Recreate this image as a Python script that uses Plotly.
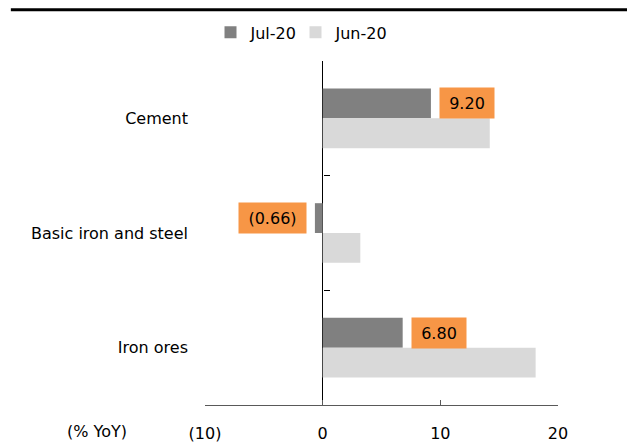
import plotly.graph_objects as go

# Output growth by industry (% YoY)
categories = ["Cement", "Basic iron and steel", "Iron ores"]
jul_20 = [9.20, -0.66, 6.80]
jun_20 = [14.2, 3.2, 18.1]
series_names = ["Jul-20", "Jun-20"]
x_tick_vals = [-10, 0, 10, 20]
x_tick_text = ["(10)", "0", "10", "20"]
label_texts = ["9.20", "(0.66)", "6.80"]

FONT = "DejaVu Sans"
BAR_GAP = 0.48

fig = go.Figure()
fig.add_trace(go.Bar(
    y=categories, x=jul_20, name=series_names[0], orientation="h",
    marker=dict(color="#808080", line=dict(width=0)), legend="legend",
))
fig.add_trace(go.Bar(
    y=categories, x=jun_20, name=series_names[1], orientation="h",
    marker=dict(color="#D9D9D9", line=dict(width=0)), legend="legend2",
))
# Empty helper trace so the boundary-tick axis at x=0 gets drawn
fig.add_trace(go.Scatter(
    x=[], y=[], yaxis="y2", showlegend=False, hoverinfo="skip",
))

# Orange value boxes next to the Jul-20 bars
offset = (1 - BAR_GAP) / 4
for i, (v, t) in enumerate(zip(jul_20, label_texts)):
    fig.add_annotation(
        x=v, y=i - offset, xref="x", yref="y", text=t, showarrow=False,
        xanchor="left" if v >= 0 else "right",
        xshift=8 if v >= 0 else -8,
        bgcolor="#F79646", borderpad=1,
        width=(52 if v >= 0 else 65), height=28,
        font=dict(family=FONT, size=16, color="#000000"),
    )

# Unit label left of the x-axis tick labels
fig.add_annotation(
    x=-0.306, y=-0.078, xref="paper", yref="paper", text="(% YoY)",
    showarrow=False, xanchor="center", yanchor="middle",
    font=dict(family=FONT, size=16, color="#000000"),
)

# Heavy rule across the top
fig.add_shape(
    type="line", xref="paper", yref="paper",
    x0=-0.55, x1=1.2, y0=1.149, y1=1.149,
    line=dict(color="#000000", width=3),
)

legend_style = dict(
    orientation="h", xanchor="left", y=1.083, yanchor="middle",
    font=dict(family=FONT, size=16, color="#000000"),
    bgcolor="rgba(0,0,0,0)",
)

fig.update_layout(
    width=627, height=443,
    margin=dict(l=205, r=69, t=61, b=38, autoexpand=False),
    paper_bgcolor="white", plot_bgcolor="white",
    barmode="group", bargap=BAR_GAP, bargroupgap=0,
    font=dict(family=FONT, size=16, color="#000000"),
    showlegend=True,
    legend=dict(x=0.0156, **legend_style),
    legend2=dict(x=0.2564, **legend_style),
    xaxis=dict(
        range=[-10, 20], tickvals=x_tick_vals, ticktext=x_tick_text,
        showgrid=False, zeroline=True, zerolinecolor="#000000", zerolinewidth=1,
        showline=True, linecolor="#595959", linewidth=1,
        ticks="inside", ticklen=5, tickcolor="#595959",
        ticklabelstandoff=14, automargin=False,
    ),
    yaxis=dict(
        type="category", autorange="reversed", showgrid=False, zeroline=False,
        showline=False, ticks="", ticklabelstandoff=16, automargin=False,
    ),
    yaxis2=dict(
        overlaying="y", anchor="free", position=1 / 3,
        range=[2.5, -0.5], tickvals=[-0.495, 0.5, 1.5, 2.5],
        ticks="inside", ticklen=6, tickcolor="#000000",
        showticklabels=False, showgrid=False, zeroline=False, showline=False,
        automargin=False,
    ),
)

fig.write_html("out.html")
